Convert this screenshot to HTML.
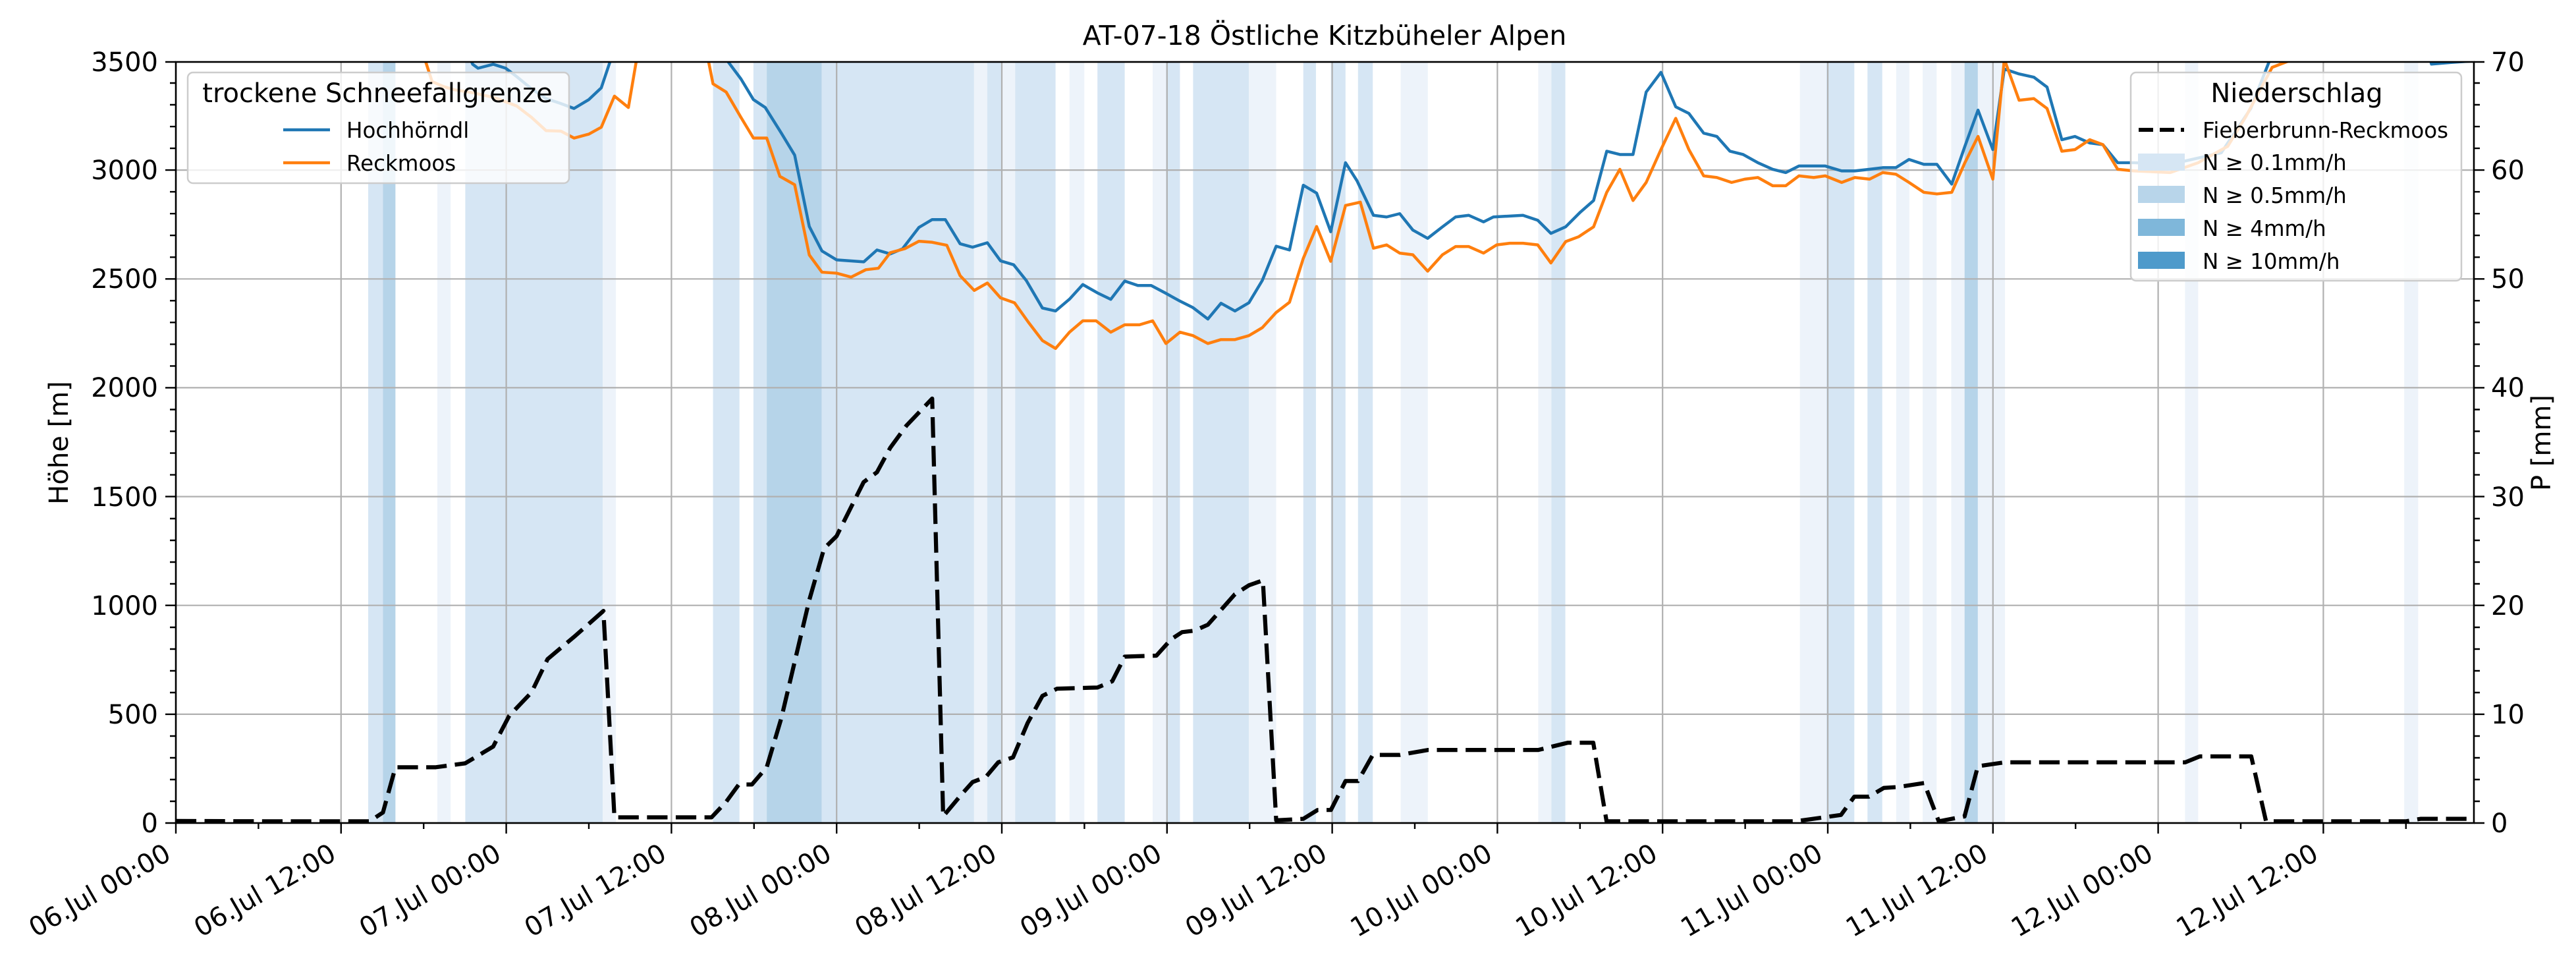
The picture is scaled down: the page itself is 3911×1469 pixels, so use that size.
<!DOCTYPE html>
<html><head><meta charset="utf-8"><style>
html,body{margin:0;padding:0;background:#fff;}
svg{display:block;font-family:"DejaVu Sans","Liberation Sans",sans-serif;}
</style></head><body>
<svg width="3911" height="1469" viewBox="0 0 3911 1469" xmlns="http://www.w3.org/2000/svg">
<defs><clipPath id="pc"><rect x="267" y="94" width="3489" height="1155"/></clipPath></defs>
<rect width="3911" height="1469" fill="#fff"/>
<g clip-path="url(#pc)">
<g transform="scale(2.4943)">
<g>
<rect x="224.1" y="37" width="9" height="465" fill="#d6e6f4"/>
<rect x="233.1" y="37" width="7.6" height="465" fill="#b6d4e9"/>
<rect x="266.2" y="37" width="8.1" height="465" fill="#edf3fa"/>
<rect x="283.2" y="37" width="83.7" height="465" fill="#d6e6f4"/>
<rect x="366.9" y="37" width="8" height="465" fill="#edf3fa"/>
<rect x="434" y="37" width="16.1" height="465" fill="#d6e6f4"/>
<rect x="458.6" y="37" width="8.1" height="465" fill="#d6e6f4"/>
<rect x="466.7" y="37" width="33.5" height="465" fill="#b6d4e9"/>
<rect x="500.2" y="37" width="92.7" height="465" fill="#d6e6f4"/>
<rect x="592.9" y="37" width="8" height="465" fill="#edf3fa"/>
<rect x="600.9" y="37" width="9" height="465" fill="#d6e6f4"/>
<rect x="609.9" y="37" width="8" height="465" fill="#edf3fa"/>
<rect x="617.9" y="37" width="24.6" height="465" fill="#d6e6f4"/>
<rect x="651" y="37" width="9" height="465" fill="#edf3fa"/>
<rect x="668" y="37" width="16.6" height="465" fill="#d6e6f4"/>
<rect x="701.6" y="37" width="8.1" height="465" fill="#edf3fa"/>
<rect x="709.7" y="37" width="8.5" height="465" fill="#d6e6f4"/>
<rect x="726.2" y="37" width="34" height="465" fill="#d6e6f4"/>
<rect x="760.2" y="37" width="16.6" height="465" fill="#edf3fa"/>
<rect x="793.3" y="37" width="7.7" height="465" fill="#d6e6f4"/>
<rect x="810.1" y="37" width="8.9" height="465" fill="#d6e6f4"/>
<rect x="826.6" y="37" width="9" height="465" fill="#d6e6f4"/>
<rect x="852.6" y="37" width="16.5" height="465" fill="#edf3fa"/>
<rect x="936.3" y="37" width="8" height="465" fill="#edf3fa"/>
<rect x="944.3" y="37" width="8.5" height="465" fill="#d6e6f4"/>
<rect x="1095.6" y="37" width="16.1" height="465" fill="#edf3fa"/>
<rect x="1111.7" y="37" width="17" height="465" fill="#d6e6f4"/>
<rect x="1136.7" y="37" width="9" height="465" fill="#d6e6f4"/>
<rect x="1154.2" y="37" width="8" height="465" fill="#edf3fa"/>
<rect x="1170.3" y="37" width="8.5" height="465" fill="#edf3fa"/>
<rect x="1187.7" y="37" width="8.1" height="465" fill="#edf3fa"/>
<rect x="1195.8" y="37" width="8.1" height="465" fill="#b6d4e9"/>
<rect x="1203.9" y="37" width="16.5" height="465" fill="#edf3fa"/>
<rect x="1330" y="37" width="8" height="465" fill="#edf3fa"/>
<rect x="1463.4" y="37" width="8.5" height="465" fill="#edf3fa"/>
</g>
</g>
<!-- grid -->
<g stroke="#b0b0b0" stroke-width="2.2">
<line x1="267" y1="1249" x2="3756" y2="1249"/><line x1="267" y1="1083.9" x2="3756" y2="1083.9"/><line x1="267" y1="918.7" x2="3756" y2="918.7"/><line x1="267" y1="753.6" x2="3756" y2="753.6"/><line x1="267" y1="588.4" x2="3756" y2="588.4"/><line x1="267" y1="423.3" x2="3756" y2="423.3"/><line x1="267" y1="258.1" x2="3756" y2="258.1"/>
<line x1="517.8" y1="94" x2="517.8" y2="1249"/><line x1="768.6" y1="94" x2="768.6" y2="1249"/><line x1="1019.4" y1="94" x2="1019.4" y2="1249"/><line x1="1270.2" y1="94" x2="1270.2" y2="1249"/><line x1="1521" y1="94" x2="1521" y2="1249"/><line x1="1771.8" y1="94" x2="1771.8" y2="1249"/><line x1="2022.6" y1="94" x2="2022.6" y2="1249"/><line x1="2273.4" y1="94" x2="2273.4" y2="1249"/><line x1="2524.2" y1="94" x2="2524.2" y2="1249"/><line x1="2775" y1="94" x2="2775" y2="1249"/><line x1="3025.8" y1="94" x2="3025.8" y2="1249"/><line x1="3276.6" y1="94" x2="3276.6" y2="1249"/><line x1="3527.4" y1="94" x2="3527.4" y2="1249"/>
</g>
<g transform="scale(2.4943)" fill="none" stroke-linejoin="round">
<polyline stroke="#1f77b4" stroke-width="1.8" points="280,20 287.7,39.1 291,41.5 300.2,39.1 307.8,41.5 314.5,46.6 323.5,54 332.4,60 341.4,63 349.4,66 358.4,60.6 366,53.4 371.8,36.1 374,20 440,20 442,36 451,48 458.6,60.6 465.8,65.4 475.6,81 483.7,94.4 492.6,137.8 500.3,152.7 509.2,158.1 525.8,159.3 533.8,152.1 541.9,154.5 549.4,151.3 559.3,138.4 567.4,133.6 575.4,133.6 584.4,148.3 592,150.4 601,147.7 609,158.7 617,161.1 624.7,170.7 634.5,187.4 642.5,189.2 651,182 659.1,173.1 668,178.2 676.1,182.1 684.6,171 692.6,173.7 700.7,173.7 709.2,178.2 717.3,182.7 726.2,187.2 735.2,194.1 743.2,184.5 751.7,189.2 760.2,184.2 768.3,170.7 776.8,149.8 784.9,152.1 793.3,112.7 801.4,117.5 810,141 819,99 826,110 836,131 844,132 852,130 860,140 869,145 878,138 886,132 894,131 903,135 909,132 927,131 936,134 944,142 953,138 962,129 970,122 978,92 986,94 994,94 1002,56 1011,44 1020,65 1028,69 1037,81 1045,83 1053,92 1061,94 1070,99 1079,103 1087,105 1095,101 1104,101 1111,101 1121,104 1129,104 1138,103 1146,102 1154,102 1162,97 1171,100 1179,100 1188,112 1196,89 1204,67 1213,91 1220,42 1229,45 1238,47 1246,53 1255,85 1263,83 1272,87 1280,88 1289,99 1299,99 1321,100 1352,93 1370,66 1381,38 1390,20 1475,20 1480,39 1492,38 1506,37"/>
<polyline stroke="#ff7f0e" stroke-width="1.8" points="255,20 258.6,36 263,49.6 269.8,52.6 276.5,54.6 287.7,56.4 301.1,59.4 314.5,64.5 323.5,71.4 332.4,79.5 341.4,79.8 349.4,84 358.4,81.6 366,77.4 374,58.5 382.5,65.4 387.5,36 390,20 429,20 431,36 434,51 442,56 451,71.4 458.6,84 466.7,84 474.7,107.3 483.7,112.4 492.6,155.1 500.3,165.6 509.2,166.2 518.1,168.6 527,164.1 534.7,163.2 541.9,153.7 550.8,151.3 559.3,146.8 567.4,147.4 576.3,149.2 584.4,167.7 593,176.7 601,172.2 609,181.2 617.5,184.2 626,196.1 634.5,207.2 642.5,212 651,202.1 659.1,195.2 667.2,195.2 676.1,202.1 684.6,197.6 693.6,197.6 701.6,195.2 709.7,209 718.2,202.1 726.2,204.2 735.2,209 743.2,206.6 751.7,206.6 760.2,204.2 768.3,199.4 776.8,190.1 784.9,183.9 793.3,157.2 801.4,137.8 810,159 819,125 828,123 836,151 844,149 852,154 860,155 869,165 878,155 886,150 894,150 903,154 911,149 919,148 927,148 936,149 944,160 953,147 961,144 970,138 978,117 986,103 994,122 1002,111 1011,91 1020,72 1028,91 1037,107 1045,108 1054,111 1062,109 1070,108 1079,113 1087,113 1095,107 1104,108 1111,107 1121,111 1129,108 1138,109 1146,105 1154,106 1162,111 1171,117 1179,118 1188,117 1196,99 1204,83 1213,109 1220,36 1229,61 1238,60 1246,66 1255,92 1263,91 1272,85 1280,88 1289,103 1299,104 1321,105 1338,99 1356,89 1367,71 1383,41 1396,36 1400,20"/>
<polyline stroke="#000" stroke-width="2.5" stroke-dasharray="12.5,5" points="107,499.5 166.9,499.7 225,499.7 233.1,494.3 240.7,466.8 265.3,466.8 283.2,464.4 300.2,454.2 310,435.4 323.5,421.3 333.3,401 349.4,387.5 367.3,371.7 374,497.3 433.1,497.3 442.1,487.7 449.7,477.3 457.7,477.3 466.7,466.8 475.6,436.9 492.6,365.1 501.6,333.7 509.2,326.2 515.9,312.8 525.7,293.3 533.8,287.3 541.9,272.4 551.7,259 567.4,242.5 574.1,496.7 585.3,483.3 592,475.8 600,472.8 607.6,463.8 616.6,460.8 625.5,439.9 634.5,423.4 643.4,419 668,418.3 677,414.5 684.6,399.5 703.9,398.9 712.8,389 719.5,384.6 727.1,383.7 735.2,380.1 743.2,371.1 751.7,361.5 760.2,356.1 768.7,353.1 776.8,499.1 793.3,498.2 802,492.8 810.1,492.8 819,475.2 826.6,475.2 835.6,459.3 852.1,459.3 869.1,456.3 936.3,456.3 954.2,451.9 969.8,451.9 977.9,499.7 1092.9,499.7 1120.6,495.8 1128.7,484.7 1137.6,484.7 1146.6,479.4 1155.5,478.8 1171.2,476.4 1180.1,499.7 1195.8,496.7 1203.9,466.2 1220.4,463.8 1330.1,463.8 1339,460.2 1370.3,460.2 1379.3,499.7 1464.3,499.7 1473.3,498.2 1505.8,498.2"/>
</g>
</g>
<!-- spines -->
<rect x="267" y="94" width="3489" height="1155" fill="none" stroke="#000" stroke-width="2.6"/>
<!-- ticks -->
<g stroke="#000" stroke-width="2.4" id="ticks">
<path d="M267 1249v16M517.8 1249v16M768.6 1249v16M1019.4 1249v16M1270.2 1249v16M1521 1249v16M1771.8 1249v16M2022.6 1249v16M2273.4 1249v16M2524.2 1249v16M2775 1249v16M3025.8 1249v16M3276.6 1249v16M3527.4 1249v16"/>
<path d="M392.4 1249v9M643.2 1249v9M894 1249v9M1144.8 1249v9M1395.6 1249v9M1646.4 1249v9M1897.2 1249v9M2148 1249v9M2398.8 1249v9M2649.6 1249v9M2900.4 1249v9M3151.2 1249v9M3402 1249v9M3652.8 1249v9"/>
<path d="M267 1249h-16M267 1083.9h-16M267 918.7h-16M267 753.6h-16M267 588.4h-16M267 423.3h-16M267 258.1h-16M267 94h-16"/>
<path d="M267 1216h-9M267 1183h-9M267 1150h-9M267 1117h-9M267 1051h-9M267 1018h-9M267 985h-9M267 952h-9M267 886h-9M267 853h-9M267 820h-9M267 787h-9M267 720.6h-9M267 687.6h-9M267 654.5h-9M267 621.5h-9M267 555.4h-9M267 522.4h-9M267 489.3h-9M267 456.3h-9M267 390.3h-9M267 357.2h-9M267 324.2h-9M267 291.1h-9M267 225.1h-9M267 192.1h-9M267 159h-9M267 126h-9"/>
<path d="M3756 1249h16M3756 1083.9h16M3756 918.7h16M3756 753.6h16M3756 588.4h16M3756 423.3h16M3756 258.1h16M3756 94h16"/>
<path d="M3756 1216h9M3756 1183h9M3756 1150h9M3756 1117h9M3756 1051h9M3756 1018h9M3756 985h9M3756 952h9M3756 886h9M3756 853h9M3756 820h9M3756 787h9M3756 720.6h9M3756 687.6h9M3756 654.5h9M3756 621.5h9M3756 555.4h9M3756 522.4h9M3756 489.3h9M3756 456.3h9M3756 390.3h9M3756 357.2h9M3756 324.2h9M3756 291.1h9M3756 225.1h9M3756 192.1h9M3756 159h9M3756 126h9"/>
</g>
<!-- y labels -->
<g font-size="40" text-anchor="end" fill="#000">
<text x="240" y="1263">0</text><text x="240" y="1098">500</text><text x="240" y="933">1000</text><text x="240" y="768">1500</text><text x="240" y="602">2000</text><text x="240" y="437">2500</text><text x="240" y="272">3000</text><text x="240" y="108">3500</text>
</g>
<g font-size="40" text-anchor="start" fill="#000">
<text x="3782" y="1263">0</text><text x="3782" y="1098">10</text><text x="3782" y="933">20</text><text x="3782" y="768">30</text><text x="3782" y="602">40</text><text x="3782" y="437">50</text><text x="3782" y="272">60</text><text x="3782" y="108">70</text>
</g>
<text transform="translate(103,672) rotate(-90)" font-size="40" text-anchor="middle">Höhe [m]</text>
<text transform="translate(3872,672) rotate(-90)" font-size="40" text-anchor="middle">P [mm]</text>
<text x="2011" y="68" font-size="41" text-anchor="middle">AT-07-18 Östliche Kitzbüheler Alpen</text>
<!-- x labels -->
<g font-size="40" text-anchor="end">
<text transform="translate(262,1303) rotate(-30)">06.Jul 00:00</text>
<text transform="translate(512.8,1303) rotate(-30)">06.Jul 12:00</text>
<text transform="translate(763.6,1303) rotate(-30)">07.Jul 00:00</text>
<text transform="translate(1014.4,1303) rotate(-30)">07.Jul 12:00</text>
<text transform="translate(1265.2,1303) rotate(-30)">08.Jul 00:00</text>
<text transform="translate(1516,1303) rotate(-30)">08.Jul 12:00</text>
<text transform="translate(1766.8,1303) rotate(-30)">09.Jul 00:00</text>
<text transform="translate(2017.6,1303) rotate(-30)">09.Jul 12:00</text>
<text transform="translate(2268.4,1303) rotate(-30)">10.Jul 00:00</text>
<text transform="translate(2519.2,1303) rotate(-30)">10.Jul 12:00</text>
<text transform="translate(2770,1303) rotate(-30)">11.Jul 00:00</text>
<text transform="translate(3020.8,1303) rotate(-30)">11.Jul 12:00</text>
<text transform="translate(3271.6,1303) rotate(-30)">12.Jul 00:00</text>
<text transform="translate(3522.4,1303) rotate(-30)">12.Jul 12:00</text>
</g>
<!-- legend 1 -->
<rect x="285" y="110" width="579" height="168" rx="8" fill="#fff" fill-opacity="0.8" stroke="#cccccc" stroke-width="2.5"/>
<text x="573" y="155" font-size="40" text-anchor="middle">trockene Schneefallgrenze</text>
<line x1="430" y1="197" x2="501" y2="197" stroke="#1f77b4" stroke-width="4.5"/>
<text x="526" y="209" font-size="32.5">Hochhörndl</text>
<line x1="430" y1="247" x2="501" y2="247" stroke="#ff7f0e" stroke-width="4.5"/>
<text x="526" y="259" font-size="32.5">Reckmoos</text>
<!-- legend 2 -->
<rect x="3235" y="110" width="502" height="316" rx="8" fill="#fff" fill-opacity="0.8" stroke="#cccccc" stroke-width="2.5"/>
<text x="3487" y="155" font-size="40" text-anchor="middle">Niederschlag</text>
<line x1="3247" y1="197" x2="3316" y2="197" stroke="#000" stroke-width="6" stroke-dasharray="22,10"/>
<text x="3344" y="209" font-size="32.5">Fieberbrunn-Reckmoos</text>
<rect x="3246" y="233" width="71" height="26" fill="#d6e6f4"/>
<text x="3344" y="258" font-size="32.5">N ≥ 0.1mm/h</text>
<rect x="3246" y="282" width="71" height="26" fill="#b8d5ea"/>
<text x="3344" y="308" font-size="32.5">N ≥ 0.5mm/h</text>
<rect x="3246" y="332" width="71" height="26" fill="#7fb7da"/>
<text x="3344" y="358" font-size="32.5">N ≥ 4mm/h</text>
<rect x="3246" y="382" width="71" height="26" fill="#4e9acb"/>
<text x="3344" y="408" font-size="32.5">N ≥ 10mm/h</text>
</svg>
</body></html>
